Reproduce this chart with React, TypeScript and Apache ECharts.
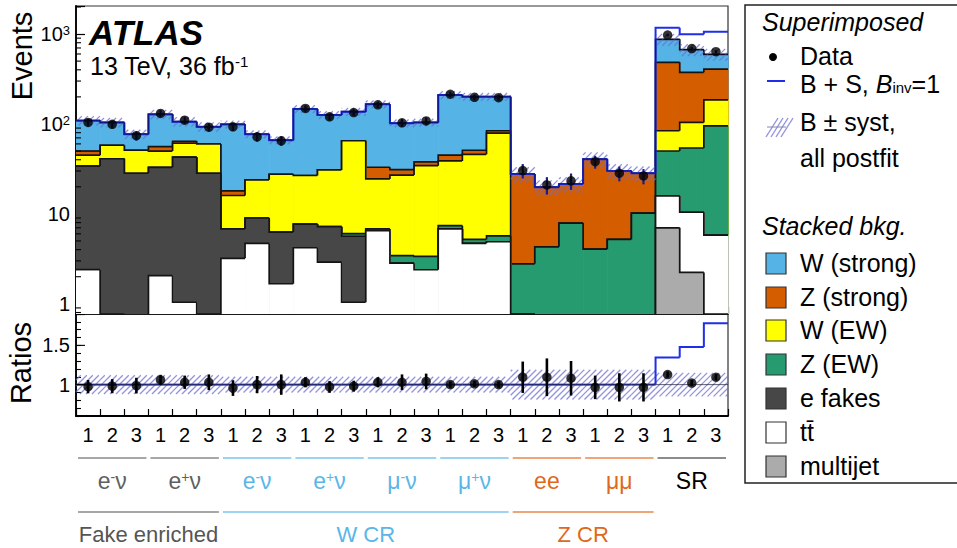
import React, { useEffect, useRef } from "react";
import * as echarts from "echarts";

// ---------------- data ----------------
const binNumbers = ["1","2","3","1","2","3","1","2","3","1","2","3","1","2","3","1","2","3","1","2","3","1","2","3","1","2","3"];
const channelLabels = ["e-ν", "e+ν", "e-ν", "e+ν", "μ-ν", "μ+ν", "ee", "μμ", "SR"];
const channelColors = ["#5f5f5f", "#5f5f5f", "#5ab6e8", "#5ab6e8", "#5ab6e8", "#5ab6e8", "#e0681c", "#e0681c", "#000000"];
const channelLineColors = ["#8a8a8a", "#8a8a8a", "#7cc5ee", "#7cc5ee", "#7cc5ee", "#7cc5ee", "#e9884c", "#e9884c", "#666666"];
const regionLabels = ["Fake enriched", "W CR", "Z CR"];
const regionFirstChannel = [0, 2, 6];
const regionChannelCount = [2, 4, 2];
const regionColors = ["#555555", "#5ab6e8", "#e0681c"];
const regionLineColors = ["#8a8a8a", "#7cc5ee", "#e9884c"];

// stacked backgrounds, bottom -> top
const multijet = [0,0,0,0,0,0,0,0,0,0,0,0,0,0,0,0,0,0,0,0,0,0,0,0,7.0,2.23,0];
const ttbar    = [2.4,0,0,2.06,1.04,0,3.2,4.7,1.67,4.2,2.9,1.04,6.5,2.83,2.39,6.8,4.7,4.9,0,0,0,0,0,0,8.8,8.2,5.8];
const eFakes   = [31.6,41,28.3,30.9,41.7,28.3,3.6,4.3,4.6,3.5,4.3,4.6,0,0,0,0,0,0,0,0,0,0,0,0,0,0,0];
const zEW      = [0,0,0,0,0,0,0,0,0,0,0,0.4,0.3,0.61,0.97,0.6,0.5,0.8,2.78,4.3,7.9,4.05,5.2,10.2,34.2,43.6,89.2];
const wEW      = [11,17,22.7,17,18.3,31.7,9.2,14.9,21.3,19,23.6,59,17.7,23.6,31,31.4,40.8,73.3,0,0,0,0,0,0,34,50,90];
const zStrong  = [5,0,0,6,3,0,2,0,0,0,0,0,8.5,4,3.6,6.2,5,5,25,15.5,13.6,36.5,24.8,18.1,401,271,223];
const wStrong  = [59,46,26,72,42,33,81,53.1,38.4,120.3,95.2,72,133,71,66,165,150,117,0,0,0,0,0,0,388,295,187];
const signal   = [0,0,0,0,0,0,0,0,0,0,0,0,0,0,0,0,0,0,0,0,0,0,0,0,302,322,466];

const dataCounts = [104,99,74,131,110,92,93,72,65,149,120,134,163,103,108,214,198,196,30.3,21.0,23.3,38,28.3,26.4,975,690,637];
const dataErr    = [10,10,8.6,11.4,10.5,9.6,9.6,8.5,8,12.2,11,11.6,12.8,10.1,10.4,14.6,14.1,14,5.5,4.6,4.8,6.2,5.3,5.1,31,26,25];
const ratioData  = [0.974,0.98,0.987,1.06,1.03,1.03,0.956,1.0,1.0,1.03,0.97,0.98,1.03,1.03,1.04,1.0,1.01,1.0,1.094,1.094,1.081,0.965,0.965,0.965,1.128,1.02,1.094];
const ratioErr   = [0.085,0.09,0.1,0.065,0.085,0.1,0.1,0.11,0.13,0.065,0.075,0.07,0.065,0.1,0.1,0.04,0.04,0.04,0.2,0.24,0.22,0.15,0.18,0.18,0.04,0.04,0.04];
const systRel    = [0.12,0.12,0.12,0.12,0.12,0.12,0.1,0.1,0.1,0.1,0.1,0.1,0.1,0.1,0.1,0.1,0.1,0.1,0.19,0.19,0.19,0.19,0.19,0.19,0.15,0.15,0.15];

const processNames  = ["multijet", "tt̄", "e fakes", "Z (EW)", "W (EW)", "Z (strong)", "W (strong)"];
const processColors = ["#ababab", "#ffffff", "#474747", "#269b6f", "#ffff00", "#d45d00", "#55b3e6"];
const processValues = [multijet, ttbar, eFakes, zEW, wEW, zStrong, wStrong];

// ---------------- layout ----------------
const FONT = '"Liberation Sans", Arial, Helvetica, sans-serif';
const GL = 76, GR = 728, MAIN_TOP = 6, MAIN_BOT = 314, RATIO_BOT = 416;
const PW = GR - GL;
const NB = binNumbers.length;
const BW = PW / NB;
const Y_MIN = 0.77, Y_MAX = 2050, R_MIN = 0.6, R_MAX = 1.9;
const BLUE = "#1f2ee8";
const HATCH = "rgba(110,110,215,0.75)";
const LEG_FS = 25;

const clampTo = (lo: number, hi: number) => (v: number) => Math.max(lo, Math.min(hi, v));
const clampM = clampTo(Y_MIN, Y_MAX);
const clampR = clampTo(R_MIN, R_MAX);

function makeStep(lo: number, fill: string | null, stroke: string, lw: number) {
  return (params: any, api: any) => {
    const i = api.value(0), top = api.value(1), prev = api.value(2);
    const w = api.size([1, 0])[0];
    const pt = api.coord([i, top]);
    const pp = api.coord([i, prev]);
    const pb = api.coord([i, lo]);
    const x0 = pt[0] - w / 2, x1 = pt[0] + w / 2;
    const children: any[] = [];
    const eps = 1e-9;
    if (fill && top > lo + eps) {
      children.push({ type: "rect", shape: { x: x0, y: pt[1], width: w + 0.6, height: pb[1] - pt[1] }, style: { fill, stroke: null } });
    }
    if (top > lo + eps || prev > lo + eps) {
      children.push({ type: "polyline", shape: { points: [[x0, pp[1]], [x0, pt[1]], [x1, pt[1]]] }, style: { stroke, lineWidth: lw, fill: null } });
    }
    return { type: "group", children };
  };
}

function makeHatch(spacing: number) {
  return (params: any, api: any) => {
    const i = api.value(0), lo = api.value(1), hi = api.value(2);
    const w = api.size([1, 0])[0];
    const pt = api.coord([i, hi]);
    const pb = api.coord([i, lo]);
    const x0 = pt[0] - w / 2, x1 = pt[0] + w / 2, yT = pt[1], yB = pb[1];
    const children: any[] = [];
    const start = Math.ceil((x0 + yT) / spacing) * spacing;
    for (let c = start; c <= x1 + yB; c += spacing) {
      const xa = Math.max(x0, c - yB), xb = Math.min(x1, c - yT);
      if (xb > xa) children.push({ type: "line", shape: { x1: xa, y1: c - xa, x2: xb, y2: c - xb }, style: { stroke: HATCH, lineWidth: 1.3 } });
    }
    return { type: "group", children };
  };
}

function makeErr(color: string, lw: number) {
  return (params: any, api: any) => {
    const i = api.value(0);
    const a = api.coord([i, api.value(1)]);
    const b = api.coord([i, api.value(2)]);
    return { type: "line", shape: { x1: a[0], y1: a[1], x2: b[0], y2: b[1] }, style: { stroke: color, lineWidth: lw } };
  };
}

function makeYTick(len: number) {
  return (params: any, api: any) => {
    const p = api.coord([0, api.value(1)]);
    const w = api.size([1, 0])[0];
    const x = p[0] - w / 2;
    return { type: "line", shape: { x1: x, y1: p[1], x2: x + len, y2: p[1] }, style: { stroke: "#000", lineWidth: 1.1 } };
  };
}

function richLabel(label: string, color: string, size: number) {
  const m = label.match(/^([^+-]+)([+-])(.*)$/);
  const rich = {
    a: { fontSize: size, fontFamily: FONT, fill: color },
    s: { fontSize: Math.round(size * 0.62), fontFamily: FONT, fill: color, verticalAlign: "top" },
  };
  const text = m ? `{a|${m[1]}}{s|${m[2] === "-" ? "-" : "+"}}{a|${m[3]}}` : `{a|${label}}`;
  return { text, rich };
}

function txt(x: number, y: number, text: string, size: number, extra: any = {}, align = "left") {
  return {
    type: "text", x, y, silent: true,
    style: Object.assign({ text, fontSize: size, fontFamily: FONT, fill: "#000", lineHeight: Math.round(size * 0.95), align, textAlign: align, verticalAlign: "middle", textVerticalAlign: "middle" }, extra),
  };
}

function buildOption() {
  const catIds = binNumbers.map((n, i) => `${i}:${n}`);

  // cumulative stack
  const cum: number[][] = [];
  let run = new Array(NB).fill(0);
  processValues.forEach((vals) => {
    run = run.map((r, i) => r + vals[i]);
    cum.push(run);
  });
  const total = cum[cum.length - 1];
  const bPlusS = total.map((t, i) => t + signal[i]);
  const ratioBS = bPlusS.map((v, i) => v / total[i]);

  const series: any[] = [];
  for (let k = cum.length - 1; k >= 0; k--) {
    const c = cum[k];
    series.push({
      type: "custom", name: processNames[k], xAxisIndex: 0, yAxisIndex: 0, silent: true,
      renderItem: makeStep(Y_MIN, processColors[k], "#141414", 1.7),
      data: c.map((v, i) => [i, clampM(v), clampM(i === 0 ? v : c[i - 1])]),
    });
  }
  series.push({
    type: "custom", name: "B ± syst", xAxisIndex: 0, yAxisIndex: 0, silent: true,
    renderItem: makeHatch(6),
    data: total.map((t, i) => [i, clampM(t * (1 - systRel[i])), clampM(t * (1 + systRel[i]))]),
  });
  series.push({
    type: "custom", name: "B + S", xAxisIndex: 0, yAxisIndex: 0, silent: true,
    renderItem: makeStep(Y_MIN, null, BLUE, 2),
    data: bPlusS.map((v, i) => [i, clampM(v), clampM(i === 0 ? v : bPlusS[i - 1])]),
  });
  series.push({
    type: "custom", name: "total outline", xAxisIndex: 0, yAxisIndex: 0, silent: true,
    renderItem: makeStep(Y_MIN, null, "rgba(0,0,40,0.55)", 1),
    data: total.map((v, i) => [i, clampM(v), clampM(i === 0 ? v : total[i - 1])]),
  });
  series.push({
    type: "custom", name: "data err", xAxisIndex: 0, yAxisIndex: 0, silent: true,
    renderItem: makeErr("#1c1c8a", 2.2),
    data: dataCounts.map((v, i) => [i, clampM(v - dataErr[i]), clampM(v + dataErr[i])]),
  });
  series.push({
    type: "scatter", name: "Data", xAxisIndex: 0, yAxisIndex: 0, silent: true,
    symbol: "circle", symbolSize: 9.5, itemStyle: { color: "#000" },
    data: dataCounts.map((v, i) => [i, v]),
  });
  const minorVals: number[] = [];
  for (let e = -1; e <= 3; e++) for (let m = 2; m <= 9; m++) {
    const v = m * Math.pow(10, e);
    if (v > Y_MIN && v < Y_MAX) minorVals.push(v);
  }
  series.push({
    type: "custom", name: "minor ticks", xAxisIndex: 0, yAxisIndex: 0, silent: true,
    renderItem: makeYTick(5), data: minorVals.map((v) => [0, v]),
  });

  // ratio panel
  series.push({
    type: "custom", name: "ratio syst", xAxisIndex: 1, yAxisIndex: 1, silent: true,
    renderItem: makeHatch(6),
    data: systRel.map((s, i) => [i, clampR(1 - s), clampR(1 + s)]),
  });
  series.push({
    type: "custom", name: "ratio B+S", xAxisIndex: 1, yAxisIndex: 1, silent: true,
    renderItem: makeStep(R_MIN, null, BLUE, 2),
    data: ratioBS.map((v, i) => [i, clampR(v), clampR(i === 0 ? v : ratioBS[i - 1])]),
  });
  series.push({
    type: "custom", name: "unity", xAxisIndex: 1, yAxisIndex: 1, silent: true,
    renderItem: makeStep(R_MIN, null, "rgba(40,40,60,0.75)", 1),
    data: ratioBS.map((v, i) => [i, 1, 1]),
  });
  series.push({
    type: "custom", name: "ratio err", xAxisIndex: 1, yAxisIndex: 1, silent: true,
    renderItem: makeErr("#000", 2.6),
    data: ratioData.map((v, i) => [i, clampR(v - ratioErr[i]), clampR(v + ratioErr[i])]),
  });
  series.push({
    type: "scatter", name: "ratio data", xAxisIndex: 1, yAxisIndex: 1, silent: true,
    symbol: "circle", symbolSize: 9.5, itemStyle: { color: "#000" },
    data: ratioData.map((v, i) => [i, v]),
  });
  series.push({
    type: "custom", name: "ratio major ticks", xAxisIndex: 1, yAxisIndex: 1, silent: true,
    renderItem: makeYTick(9), data: [[0, 1], [0, 1.5]],
  });

  // ---------- graphics: titles, category groups, legend ----------
  const g: any[] = [];
  g.push(Object.assign(txt(22, 56, "Events", 29, {}, "center"), { rotation: Math.PI / 2 }));
  g.push(Object.assign(txt(21, 363, "Ratios", 29, {}, "center"), { rotation: Math.PI / 2 }));
  g.push(txt(89, 32, "ATLAS", 35, { fontWeight: "bold", fontStyle: "italic" }));
  g.push({
    type: "text", x: 90, y: 66, silent: true,
    style: {
      text: "{a|13 TeV, 36 fb}{s|-1}",
      rich: { a: { fontSize: 25, fontFamily: FONT, fill: "#000" }, s: { fontSize: 15, fontFamily: FONT, fill: "#000", verticalAlign: "top" } },
      fill: "#000", align: "left", textAlign: "left", verticalAlign: "middle", textVerticalAlign: "middle",
    },
  });

  channelLabels.forEach((lab, c) => {
    const xa = GL + BW * c * 3, xb = GL + BW * (c + 1) * 3;
    g.push({ type: "line", silent: true, shape: { x1: xa + 2, y1: 458, x2: xb - 2, y2: 458 }, style: { stroke: channelLineColors[c], lineWidth: 1.5 } });
    const r = richLabel(lab, channelColors[c], 23);
    g.push({ type: "text", x: (xa + xb) / 2, y: 481, silent: true, style: { text: r.text, rich: r.rich, fill: channelColors[c], align: "center", textAlign: "center", verticalAlign: "middle", textVerticalAlign: "middle" } });
  });
  regionLabels.forEach((lab, r) => {
    const xa = GL + BW * regionFirstChannel[r] * 3;
    const xb = GL + BW * (regionFirstChannel[r] + regionChannelCount[r]) * 3;
    g.push({ type: "line", silent: true, shape: { x1: xa + 2, y1: 512, x2: xb - 2, y2: 512 }, style: { stroke: regionLineColors[r], lineWidth: 1.5 } });
    g.push(txt((xa + xb) / 2, 534, lab, 22, { fill: regionColors[r] }, "center"));
  });

  // legend
  g.push({ type: "rect", silent: true, shape: { x: 745, y: 5, width: 240, height: 478 }, style: { fill: "#fff", stroke: "#222", lineWidth: 1.5 } });
  g.push(txt(762, 22, "Superimposed", LEG_FS, { fontStyle: "italic" }));
  g.push({ type: "circle", silent: true, shape: { cx: 773, cy: 57, r: 4 }, style: { fill: "#000" } });
  g.push(txt(800, 56, "Data", LEG_FS));
  g.push({ type: "line", silent: true, shape: { x1: 767, y1: 81, x2: 785, y2: 81 }, style: { stroke: BLUE, lineWidth: 2 } });
  g.push({
    type: "text", x: 800, y: 84, silent: true,
    style: {
      text: "{a|B + S, }{i|B}{b|inv}{a|=1}",
      rich: {
        a: { fontSize: LEG_FS, fontFamily: FONT, fill: "#000", lineHeight: 22 },
        i: { fontSize: LEG_FS, fontFamily: FONT, fill: "#000", fontStyle: "italic", lineHeight: 22 },
        b: { fontSize: 15, fontFamily: FONT, fill: "#000", verticalAlign: "bottom", lineHeight: 15 },
      },
      fill: "#000", align: "left", textAlign: "left", verticalAlign: "middle", textVerticalAlign: "middle",
    },
  });
  for (let k = 0; k < 4; k++) {
    const bx = 766 + k * 5;
    g.push({ type: "line", silent: true, shape: { x1: bx, y1: 137, x2: bx + 12, y2: 118 }, style: { stroke: HATCH, lineWidth: 1.4 } });
  }
  g.push({ type: "line", silent: true, shape: { x1: 767, y1: 127, x2: 786, y2: 127 }, style: { stroke: "#8888aa", lineWidth: 1 } });
  g.push(txt(800, 122, "B ± syst,", LEG_FS));
  g.push(txt(800, 158, "all postfit", LEG_FS));
  g.push(txt(762, 226, "Stacked bkg.", LEG_FS, { fontStyle: "italic" }));
  const legendYs = [263, 297, 330, 364, 398, 432, 466];
  for (let j = 0; j < processNames.length; j++) {
    const k = processNames.length - 1 - j; // top of stack first
    g.push({ type: "rect", silent: true, shape: { x: 766, y: legendYs[j] - 10, width: 20, height: 21 }, style: { fill: processColors[k], stroke: "#333", lineWidth: 1.2 } });
    g.push(txt(800, legendYs[j], processNames[k], LEG_FS));
  }

  const logFmt = (v: number) => {
    const e = Math.log10(v);
    const r = Math.round(e);
    if (Math.abs(e - r) > 1e-6) return "";
    if (r === 0) return "{b|1}";
    if (r === 1) return "{b|10}";
    return `{b|10}{s|${r}}`;
  };

  return {
    animation: false,
    backgroundColor: "#ffffff",
    textStyle: { fontFamily: FONT },
    grid: [
      { left: GL, top: MAIN_TOP, width: PW, height: MAIN_BOT - MAIN_TOP, show: true, borderColor: "#333", borderWidth: 1.2, backgroundColor: "transparent" },
      { left: GL, top: MAIN_BOT, width: PW, height: RATIO_BOT - MAIN_BOT, show: true, borderColor: "#333", borderWidth: 1.2, backgroundColor: "transparent" },
    ],
    xAxis: [
      {
        type: "category", gridIndex: 0, data: catIds, boundaryGap: true,
        axisLine: { show: true, lineStyle: { color: "#000", width: 1.6 } },
        axisTick: { show: true, inside: true, length: 7, interval: 0, lineStyle: { color: "#000", width: 1.2 } },
        axisLabel: { show: false }, splitLine: { show: false },
      },
      {
        type: "category", gridIndex: 1, data: catIds, boundaryGap: true,
        axisLine: { show: true, lineStyle: { color: "#000", width: 1.8 } },
        axisTick: { show: true, inside: true, length: 7, interval: 0, lineStyle: { color: "#000", width: 1.2 } },
        axisLabel: { show: true, interval: 0, margin: 9, fontSize: 20, color: "#000", fontFamily: FONT, formatter: (v: string) => v.split(":")[1] },
        splitLine: { show: false },
      },
    ],
    yAxis: [
      {
        type: "log", logBase: 10, gridIndex: 0, min: Y_MIN, max: Y_MAX,
        axisLine: { show: true, lineStyle: { color: "#000", width: 1.8 } },
        axisTick: { show: true, inside: true, length: 9, lineStyle: { color: "#000", width: 1.2 } },
        axisLabel: {
          margin: 6, color: "#000", formatter: logFmt,
          rich: {
            b: { fontSize: 20, fontFamily: FONT, color: "#000" },
            s: { fontSize: 13, fontFamily: FONT, color: "#000", verticalAlign: "top" },
          },
        },
        splitLine: { show: false }, minorTick: { show: false },
      },
      {
        type: "value", gridIndex: 1, min: R_MIN, max: R_MAX, interval: 0.1,
        axisLine: { show: true, lineStyle: { color: "#000", width: 1.8 } },
        axisTick: { show: true, inside: true, length: 5, lineStyle: { color: "#000", width: 1.1 } },
        axisLabel: {
          margin: 6, fontSize: 20, color: "#000", fontFamily: FONT,
          formatter: (v: number) => (Math.abs(v - 1) < 1e-6 ? "1" : Math.abs(v - 1.5) < 1e-6 ? "1.5" : ""),
        },
        splitLine: { show: false },
      },
    ],
    series,
    graphic: { elements: g },
  };
}

export default function App() {
  const ref = useRef<HTMLDivElement>(null);
  useEffect(() => {
    if (!ref.current) return;
    const chart = echarts.init(ref.current, null, { renderer: "svg" });
    chart.setOption(buildOption() as any);
    return () => chart.dispose();
  }, []);
  return <div ref={ref} style={{ position: "fixed", left: 0, top: 0, width: 957, height: 548, background: "#fff" }} />;
}
